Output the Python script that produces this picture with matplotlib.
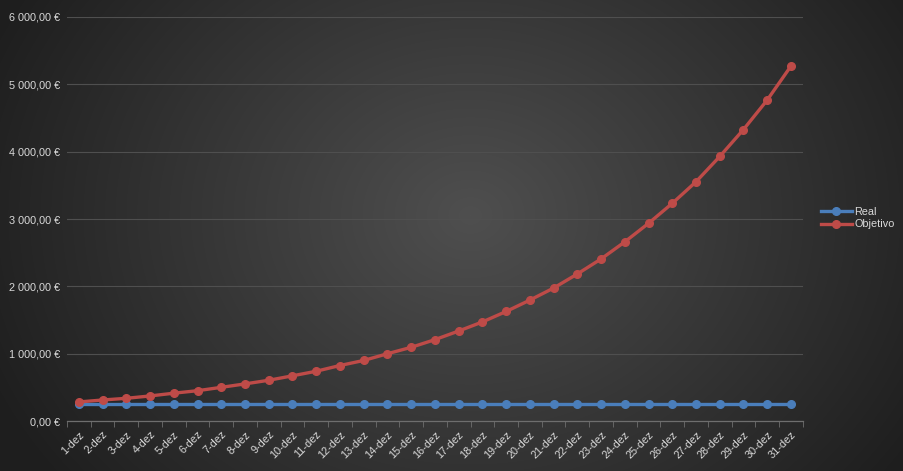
import numpy as np
import matplotlib
matplotlib.use("Agg")
import matplotlib.pyplot as plt
from matplotlib.ticker import FuncFormatter, FixedLocator
from matplotlib.lines import Line2D

days = [f"{d}-dez" for d in range(1, 32)]
real = [250] * 31
objetivo = [284, 313, 338, 373, 414, 451, 501, 552, 606, 672,
            740, 825, 900, 1000, 1095, 1209, 1337, 1472, 1627, 1796,
            1975, 2184, 2407, 2661, 2936, 3233, 3553, 3929, 4329, 4767,
            5271]
y_ticks = [0, 1000, 2000, 3000, 4000, 5000, 6000]

BLUE = "#4a7ebb"
RED = "#be4b48"
TEXT = "#d9d9d9"

plt.rcParams['font.family'] = ['Liberation Sans', 'DejaVu Sans']


def euro(v, pos=None):
    s = f"{v:,.2f}".replace(",", " ").replace(".", ",")
    return s + " €"


fig = plt.figure(figsize=(9.04, 4.71), dpi=100)

# radial gradient background like the Excel dark theme
bg = fig.add_axes([0, 0, 1, 1], zorder=0)
yy, xx = np.mgrid[0:471, 0:904]
r = np.sqrt(((xx - 470) / 520.0) ** 2 + ((yy - 215) / 430.0) ** 2)
shade = np.clip(0.31 - 0.19 * r, 0.12, 0.31)
bg.imshow(np.dstack([shade, shade, shade]), aspect='auto', extent=[0, 1, 0, 1])
bg.axis('off')

ax = fig.add_axes([0.0741, 0.106, 0.814, 0.858], zorder=1)
ax.patch.set_alpha(0)
x = np.arange(len(days))

ax.plot(x, real, color=BLUE, lw=2.4, marker='o', ms=5.5, zorder=3)
ax.plot(x, objetivo, color=RED, lw=2.4, marker='o', ms=5.5, zorder=4)

ax.set_xlim(-0.5, len(days) - 0.5)
ax.set_ylim(0, 6000)
ax.set_yticks(y_ticks)
ax.yaxis.set_major_formatter(FuncFormatter(euro))
ax.set_xticks(x)
ax.set_xticklabels(days, rotation=45, ha='right', rotation_mode='anchor')
ax.xaxis.set_minor_locator(FixedLocator(np.arange(-0.5, len(days), 1)))

ax.tick_params(axis='x', which='major', length=0, pad=6, labelsize=7.8, labelcolor=TEXT)
ax.tick_params(axis='x', which='minor', length=4, color="#6e6e6e", direction='out')
ax.tick_params(axis='y', length=0, pad=5, labelsize=7.8, labelcolor=TEXT)

ax.grid(axis='y', color="#4f4f4f", lw=0.8)
ax.set_axisbelow(True)
for side in ['top', 'right', 'left']:
    ax.spines[side].set_visible(False)
ax.spines['bottom'].set_color("#6e6e6e")
ax.spines['bottom'].set_linewidth(0.9)

handles = [Line2D([], [], color=BLUE, lw=2.4, marker='o', ms=5.5),
           Line2D([], [], color=RED, lw=2.4, marker='o', ms=5.5)]
leg = fig.legend(handles, ["Real", "Objetivo"], loc='center left',
                 bbox_to_anchor=(0.903, 0.537), frameon=False,
                 fontsize=7.8, handlelength=2.9, handletextpad=0.2,
                 labelspacing=0.25, borderaxespad=0)
for t in leg.get_texts():
    t.set_color(TEXT)

plt.savefig("out.png", dpi=100)
